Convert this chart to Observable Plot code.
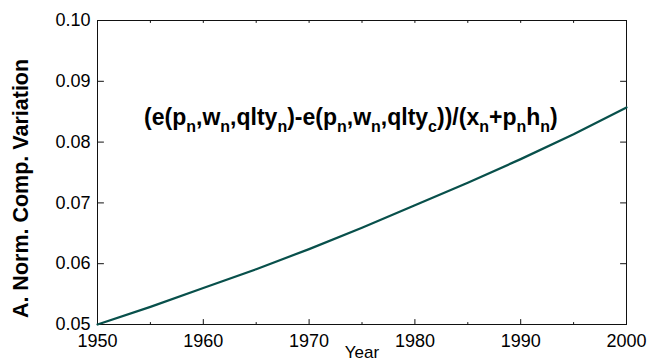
<!DOCTYPE html>
<html><head><meta charset="utf-8">
<script src="https://cdn.jsdelivr.net/npm/d3@7"></script>
<script src="https://cdn.jsdelivr.net/npm/@observablehq/plot@0.6"></script>
<style>body{margin:0;background:#fff}</style>
</head><body><div id="chart"></div>
<script>
const years = [1950, 1955, 1960, 1965, 1970, 1975, 1980, 1985, 1990, 1995, 2000];
const values = [0.0500, 0.0529, 0.0560, 0.0591, 0.0624, 0.0659, 0.0696, 0.0733, 0.0772, 0.0813, 0.0857];
const xTicks = [1950, 1960, 1970, 1980, 1990, 2000];
const xMinorTicks = [1955, 1965, 1975, 1985, 1995];
const yTicks = [0.05, 0.06, 0.07, 0.08, 0.09, 0.10];
const xLabel = "Year";
const yLabel = "A. Norm. Comp. Variation";
const annotation = [["(e(p", ""], ["n", "sub"], [",w", ""], ["n", "sub"], [",qlty", ""], ["n", "sub"],
  [")-e(p", ""], ["n", "sub"], [",w", ""], ["n", "sub"], [",qlty", ""], ["c", "sub"],
  ["))/(x", ""], ["n", "sub"], ["+p", ""], ["n", "sub"], ["h", ""], ["n", "sub"], [")", ""]];
const annotationPos = {year: 1974.0, value: 0.0827};

const data = years.map((year, i) => ({year, value: values[i]}));

// straight tick shape for vector marks
const tickShape = {draw(context, l) { context.moveTo(0, 0); context.lineTo(0, -l); }};
const tick = (vals, dim, anchor, len, rotate) =>
  Plot.vector(vals, {[dim]: d => d, frameAnchor: anchor, length: len, rotate, anchor: "start",
    shape: tickShape, stroke: "#111", strokeWidth: 1});

const plot = Plot.plot({
  width: 650, height: 360,
  marginLeft: 97, marginRight: 24, marginTop: 20, marginBottom: 36,
  style: {fontFamily: "'Liberation Sans', Arial, sans-serif", fontSize: "18px", background: "white", color: "black"},
  x: {domain: [1950, 2000]},
  y: {domain: [0.05, 0.10]},
  marks: [
    Plot.axisX(xTicks, {anchor: "bottom", tickSize: 0, tickPadding: 10, label: null, fontSize: 18, tickFormat: d => String(d)}),
    Plot.axisY(yTicks, {anchor: "left", tickSize: 0, tickPadding: 7, label: null, fontSize: 18, tickFormat: d => d.toFixed(2)}),
    tick(xTicks, "x", "bottom", 5, 0),
    tick(xMinorTicks, "x", "bottom", 2, 0),
    tick(years, "x", "top", 2, 180),
    tick(yTicks, "y", "left", 6, 90),
    tick(yTicks, "y", "right", 6, -90),
    Plot.frame({stroke: "#111", strokeWidth: 1}),
    Plot.line(data, {x: "year", y: "value", stroke: "#08504b", strokeWidth: 2.2}),
    Plot.text([xLabel], {frameAnchor: "bottom", dy: 33, lineAnchor: "bottom", fontSize: 17}),
    Plot.text([yLabel], {frameAnchor: "left", rotate: -90, dx: -70, dy: 16, textAnchor: "middle", lineAnchor: "bottom", fontSize: 21.5, fontWeight: "bold"})
  ]
});
document.getElementById("chart").appendChild(plot);

// annotation with subscripts, positioned through the plot's scales
const sx = plot.scale("x"), sy = plot.scale("y");
const svg = d3.select(plot.tagName.toLowerCase() === "svg" ? plot : plot.querySelector("svg"));
const t = svg.append("text")
  .attr("x", sx.apply(annotationPos.year))
  .attr("y", sy.apply(annotationPos.value))
  .attr("text-anchor", "middle")
  .attr("font-family", "'Liberation Sans', Arial, sans-serif")
  .attr("font-weight", "bold")
  .attr("font-size", 23)
  .attr("fill", "black");
annotation.forEach(([s, kind], i) => {
  const ts = t.append("tspan").text(s);
  if (kind === "sub") ts.attr("font-size", 16).attr("dy", 7);
  else if (i > 0 && annotation[i - 1][1] === "sub") ts.attr("dy", -7);
});
</script></body></html>
